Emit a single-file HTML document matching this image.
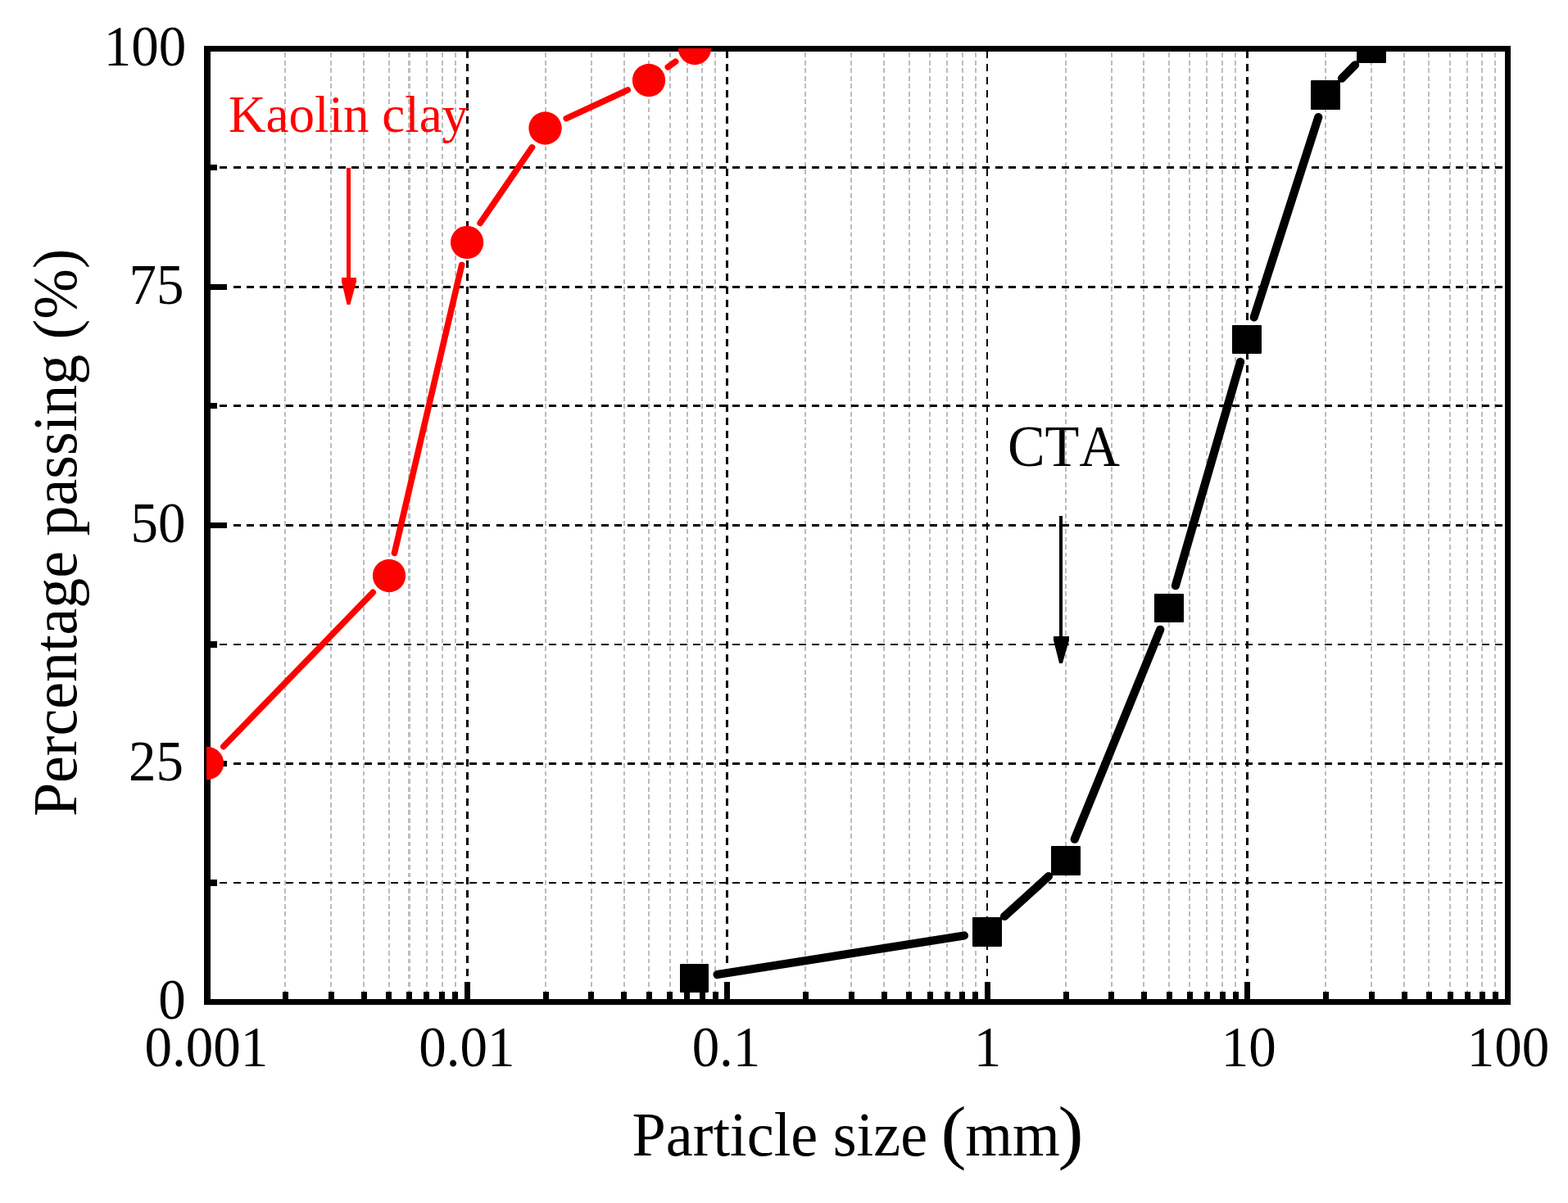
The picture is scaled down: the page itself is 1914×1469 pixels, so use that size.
<!DOCTYPE html>
<html lang="en"><head><meta charset="utf-8"><title>Particle size distribution</title>
<style>
html,body{margin:0;padding:0;background:#fff;}
body{width:1914px;height:1469px;overflow:hidden;}
svg{display:block;}
text{font-family:"Liberation Serif","Times New Roman",serif;font-kerning:none;font-variant-ligatures:none;}
</style></head><body>
<svg width="1914" height="1469" viewBox="0 0 1914 1469">
<rect x="0" y="0" width="1914" height="1469" fill="#fff"/>
<g stroke="#bcbcbc" stroke-width="2" stroke-dasharray="5.8 3.738" fill="none" shape-rendering="crispEdges">
<line x1="348" y1="64.2" x2="348" y2="1212"/>
<line x1="404" y1="64.2" x2="404" y2="1212"/>
<line x1="444" y1="64.2" x2="444" y2="1212"/>
<line x1="475" y1="64.2" x2="475" y2="1212"/>
<line x1="499.5" y1="64.2" x2="499.5" y2="1212" stroke-width="3"/>
<line x1="521" y1="64.2" x2="521" y2="1212"/>
<line x1="540" y1="64.2" x2="540" y2="1212"/>
<line x1="556" y1="64.2" x2="556" y2="1212"/>
<line x1="666" y1="64.2" x2="666" y2="1212"/>
<line x1="722" y1="64.2" x2="722" y2="1212"/>
<line x1="762" y1="64.2" x2="762" y2="1212"/>
<line x1="792" y1="64.2" x2="792" y2="1212"/>
<line x1="818" y1="64.2" x2="818" y2="1212"/>
<line x1="839" y1="64.2" x2="839" y2="1212"/>
<line x1="857" y1="64.2" x2="857" y2="1212"/>
<line x1="873" y1="64.2" x2="873" y2="1212"/>
<line x1="983" y1="64.2" x2="983" y2="1212"/>
<line x1="1039" y1="64.2" x2="1039" y2="1212"/>
<line x1="1079" y1="64.2" x2="1079" y2="1212"/>
<line x1="1110" y1="64.2" x2="1110" y2="1212"/>
<line x1="1135" y1="64.2" x2="1135" y2="1212"/>
<line x1="1156" y1="64.2" x2="1156" y2="1212"/>
<line x1="1175" y1="64.2" x2="1175" y2="1212"/>
<line x1="1191" y1="64.2" x2="1191" y2="1212"/>
<line x1="1301" y1="64.2" x2="1301" y2="1212"/>
<line x1="1357" y1="64.2" x2="1357" y2="1212"/>
<line x1="1396" y1="64.2" x2="1396" y2="1212"/>
<line x1="1427" y1="64.2" x2="1427" y2="1212"/>
<line x1="1452" y1="64.2" x2="1452" y2="1212"/>
<line x1="1473" y1="64.2" x2="1473" y2="1212"/>
<line x1="1492" y1="64.2" x2="1492" y2="1212"/>
<line x1="1508" y1="64.2" x2="1508" y2="1212"/>
<line x1="1618" y1="64.2" x2="1618" y2="1212"/>
<line x1="1674" y1="64.2" x2="1674" y2="1212"/>
<line x1="1714" y1="64.2" x2="1714" y2="1212"/>
<line x1="1744" y1="64.2" x2="1744" y2="1212"/>
<line x1="1770" y1="64.2" x2="1770" y2="1212"/>
<line x1="1791" y1="64.2" x2="1791" y2="1212"/>
<line x1="1809" y1="64.2" x2="1809" y2="1212"/>
<line x1="1825" y1="64.2" x2="1825" y2="1212"/>
</g>
<g stroke="#000" fill="none" stroke-dasharray="9 7.013" shape-rendering="crispEdges">
<line x1="570.5" y1="62" x2="570.5" y2="1199" stroke-width="3"/>
<line x1="887.5" y1="62" x2="887.5" y2="1199" stroke-width="3"/>
<line x1="1205" y1="62" x2="1205" y2="1199" stroke-width="2"/>
<line x1="1522.5" y1="62" x2="1522.5" y2="1199" stroke-width="3"/>
</g>
<g stroke="#000" fill="none" stroke-dasharray="9 7.05" shape-rendering="crispEdges">
<line x1="252.4" y1="204.5" x2="1837" y2="204.5" stroke-width="3"/>
<line x1="252.4" y1="350.5" x2="1837" y2="350.5" stroke-width="3"/>
<line x1="252.4" y1="495.5" x2="1837" y2="495.5" stroke-width="3"/>
<line x1="252.4" y1="641.5" x2="1837" y2="641.5" stroke-width="3"/>
<line x1="252.4" y1="787" x2="1837" y2="787" stroke-width="2"/>
<line x1="252.4" y1="932.5" x2="1837" y2="932.5" stroke-width="3"/>
<line x1="252.4" y1="1078" x2="1837" y2="1078" stroke-width="2"/>
</g>
<g fill="#000" stroke="none" shape-rendering="crispEdges">
<rect x="345" y="1211" width="7" height="10"/>
<rect x="401" y="1211" width="7" height="10"/>
<rect x="441" y="1211" width="7" height="10"/>
<rect x="471" y="1211" width="7" height="10"/>
<rect x="496" y="1211" width="7" height="10"/>
<rect x="517" y="1211" width="7" height="10"/>
<rect x="536" y="1211" width="7" height="10"/>
<rect x="552" y="1211" width="7" height="10"/>
<rect x="663" y="1211" width="7" height="10"/>
<rect x="718" y="1211" width="7" height="10"/>
<rect x="758" y="1211" width="7" height="10"/>
<rect x="789" y="1211" width="7" height="10"/>
<rect x="814" y="1211" width="7" height="10"/>
<rect x="835" y="1211" width="7" height="10"/>
<rect x="854" y="1211" width="7" height="10"/>
<rect x="870" y="1211" width="7" height="10"/>
<rect x="980" y="1211" width="7" height="10"/>
<rect x="1036" y="1211" width="7" height="10"/>
<rect x="1076" y="1211" width="7" height="10"/>
<rect x="1106" y="1211" width="7" height="10"/>
<rect x="1132" y="1211" width="7" height="10"/>
<rect x="1153" y="1211" width="7" height="10"/>
<rect x="1171" y="1211" width="7" height="10"/>
<rect x="1187" y="1211" width="7" height="10"/>
<rect x="1298" y="1211" width="7" height="10"/>
<rect x="1353" y="1211" width="7" height="10"/>
<rect x="1393" y="1211" width="7" height="10"/>
<rect x="1424" y="1211" width="7" height="10"/>
<rect x="1449" y="1211" width="7" height="10"/>
<rect x="1470" y="1211" width="7" height="10"/>
<rect x="1489" y="1211" width="7" height="10"/>
<rect x="1505" y="1211" width="7" height="10"/>
<rect x="1615" y="1211" width="7" height="10"/>
<rect x="1671" y="1211" width="7" height="10"/>
<rect x="1711" y="1211" width="7" height="10"/>
<rect x="1741" y="1211" width="7" height="10"/>
<rect x="1767" y="1211" width="7" height="10"/>
<rect x="1788" y="1211" width="7" height="10"/>
<rect x="1806" y="1211" width="7" height="10"/>
<rect x="1822" y="1211" width="7" height="10"/>
<rect x="567" y="1199" width="7" height="22"/>
<rect x="884" y="1199" width="7" height="22"/>
<rect x="1202" y="1199" width="7" height="22"/>
<rect x="1519" y="1199" width="7" height="22"/>
<rect x="256" y="201" width="9" height="7"/>
<rect x="256" y="347" width="21" height="7"/>
<rect x="256" y="492" width="9" height="7"/>
<rect x="256" y="638" width="21" height="7"/>
<rect x="256" y="783" width="9" height="8"/>
<rect x="256" y="929" width="21" height="7"/>
<rect x="256" y="1074" width="9" height="8"/>
</g>
<g fill="#000" stroke="none" shape-rendering="crispEdges">
<rect x="249" y="56" width="8" height="1171"/>
<rect x="1837" y="56" width="7" height="1171"/>
<rect x="249" y="56" width="1595" height="7"/>
<rect x="249" y="1220" width="1595" height="7"/>
</g>
<defs><clipPath id="plotclip"><rect x="252" y="59" width="1589" height="1165"/></clipPath></defs>
<g clip-path="url(#plotclip)">
<g stroke="#ff0000" stroke-width="7.6" stroke-linecap="round" fill="none">
<line x1="272.77" y1="911.61" x2="455.23" y2="723.39"/>
<line x1="481.46" y1="675.34" x2="563.64" y2="323.56"/>
<line x1="586.14" y1="272.46" x2="649.46" y2="179.94"/>
<line x1="691.28" y1="144.58" x2="766.22" y2="109.92"/>
<line x1="815.31" y1="81.77" x2="824.69" y2="75.23"/>
</g>
<g fill="#ff0000" stroke="none">
<circle cx="253" cy="932" r="20.15"/>
<circle cx="475" cy="703" r="20.15"/>
<circle cx="570.1" cy="295.9" r="20.15"/>
<circle cx="665.5" cy="156.5" r="20.15"/>
<circle cx="792" cy="98" r="20.15"/>
<circle cx="848" cy="59" r="20.15"/>
</g></g>
<g clip-path="url(#plotclip)">
<g stroke="#000000" stroke-width="10.2" stroke-linecap="round" fill="none">
<line x1="875.55" y1="1190.07" x2="1176.95" y2="1142.43"/>
<line x1="1226.04" y1="1118.93" x2="1279.96" y2="1070.07"/>
<line x1="1311.74" y1="1024.71" x2="1416.26" y2="768.79"/>
<line x1="1434.90" y1="715.22" x2="1514.10" y2="441.78"/>
<line x1="1530.70" y1="387.46" x2="1609.30" y2="143.04"/>
<line x1="1637.90" y1="95.74" x2="1654.10" y2="79.26"/>
</g>
<g fill="#000000" stroke="none">
<rect x="830" y="1177" width="35" height="35" rx="1"/>
<rect x="1187" y="1120" width="36" height="36" rx="1"/>
<rect x="1283" y="1033" width="36" height="36" rx="1"/>
<rect x="1409" y="725" width="36" height="35" rx="1"/>
<rect x="1504" y="397" width="36" height="35" rx="1"/>
<rect x="1600" y="98" width="36" height="36" rx="1"/>
<rect x="1656" y="41" width="36" height="36" rx="1"/>
</g></g>
<g fill="#ff0000" stroke="none">
<rect x="423" y="205" width="5" height="136" shape-rendering="crispEdges"/>
<path d="M417 339 L435 339 L435 344 L427.4 372 L423.6 372 L417 344 Z"/>
</g>
<g fill="#000000" stroke="none">
<rect x="1293" y="630" width="4" height="149" shape-rendering="crispEdges"/>
<path d="M1286 777 L1305 777 L1305 782 L1296.9 810 L1293.1 810 L1286 782 Z"/>
</g>
<text transform="translate(177 80) scale(1 1.04)" font-size="67" text-anchor="middle" fill="#000">100</text>
<text transform="translate(191 371) scale(1 1.04)" font-size="67" text-anchor="middle" fill="#000">75</text>
<text transform="translate(193 662) scale(1 1.04)" font-size="67" text-anchor="middle" fill="#000">50</text>
<text transform="translate(190.5 953) scale(1 1.04)" font-size="67" text-anchor="middle" fill="#000">25</text>
<text transform="translate(209.9 1244) scale(1 1.04)" font-size="67" text-anchor="middle" fill="#000">0</text>
<text transform="translate(251.8 1302) scale(1 1.04)" font-size="67" text-anchor="middle" fill="#000">0.001</text>
<text transform="translate(569.8 1302) scale(1 1.04)" font-size="67" text-anchor="middle" fill="#000">0.01</text>
<text transform="translate(886.5 1302) scale(1 1.04)" font-size="67" text-anchor="middle" fill="#000">0.1</text>
<text transform="translate(1205.5 1302) scale(1 1.04)" font-size="67" text-anchor="middle" fill="#000">1</text>
<text transform="translate(1524.2 1302) scale(1 1.04)" font-size="67" text-anchor="middle" fill="#000">10</text>
<text transform="translate(1841 1302) scale(1 1.04)" font-size="67" text-anchor="middle" fill="#000">100</text>
<text transform="translate(771.6 1411) scale(1 1.03)" font-size="74.2" text-anchor="start" fill="#000" xml:space="preserve">Particle size <tspan x="376.90" y="-0.49" font-size="84.47" textLength="31.00" lengthAdjust="spacingAndGlyphs">(</tspan><tspan x="406.60" y="0">mm</tspan><tspan x="519.80" y="-0.49" font-size="84.47" textLength="31.00" lengthAdjust="spacingAndGlyphs">)</tspan></text>
<text transform="translate(93 997.1) rotate(-90) scale(1 1.02)" font-size="73.9" text-anchor="start" fill="#000">Percentage passing (%)</text>
<text transform="translate(279.1 161)" font-size="63" text-anchor="start" fill="#ff0000">Kaolin clay</text>
<text transform="translate(1230 569) scale(1 1.04)" font-size="68.4" text-anchor="start" fill="#000">CTA</text>
</svg></body></html>
